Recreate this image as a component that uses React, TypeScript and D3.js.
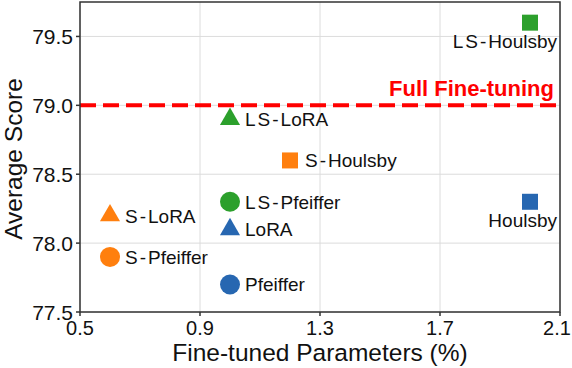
import React from 'react'
import * as d3 from 'd3'

const methods = ['LS-Houlsby', 'Houlsby', 'LS-LoRA', 'S-Houlsby', 'LS-Pfeiffer', 'LoRA', 'Pfeiffer', 'S-LoRA', 'S-Pfeiffer']
const params = [2.0, 2.0, 1.0, 1.2, 1.0, 1.0, 1.0, 0.6, 0.6]
const scores = [79.6, 78.3, 78.9, 78.6, 78.3, 78.1, 77.7, 78.2, 77.9]
const groups = ['LS', 'base', 'LS', 'S', 'LS', 'base', 'base', 'S', 'S']
const shapes = ['square', 'square', 'triangle', 'square', 'circle', 'triangle', 'circle', 'triangle', 'circle']
const xTicks = [0.5, 0.9, 1.3, 1.7, 2.1]
const yTicks = [77.5, 78.0, 78.5, 79.0, 79.5]
const fullFineTuning = 79.0

const colors: Record<string, string> = { LS: '#2ca02c', S: '#ff7f0e', base: '#2767b1' }
const symbols: Record<string, any> = { square: d3.symbolSquare, triangle: d3.symbolTriangle, circle: d3.symbolCircle }
const sizes: Record<string, number> = { square: 256, triangle: 175, circle: 314 }

const W = 572
const H = 368
const margin = { top: 2, right: 12, bottom: 56, left: 80 }
const font = 'Liberation Sans, Arial, Helvetica, sans-serif'

export default function App() {
  const x = d3.scaleLinear().domain([0.5, 2.1]).range([margin.left, W - margin.right])
  const y = d3.scaleLinear().domain([77.5, 79.75]).range([H - margin.bottom, margin.top])
  const [x0, x1] = x.range()
  const [y0, y1] = y.range()

  const points = methods.map((m, i) => ({ m, px: x(params[i]), py: y(scores[i]), g: groups[i], s: shapes[i] }))

  return (
    <svg width={W} height={H} style={{ position: 'absolute', left: 0, top: 0 }} fontFamily={font}>
      <rect width={W} height={H} fill="#fff" />
      {/* grid */}
      {xTicks.map(t => (
        <line key={'gx' + t} x1={x(t)} x2={x(t)} y1={y0} y2={y1} stroke="#dcdcdc" strokeWidth={1} />
      ))}
      {yTicks.map(t => (
        <line key={'gy' + t} x1={x0} x2={x1} y1={y(t)} y2={y(t)} stroke="#dcdcdc" strokeWidth={1} />
      ))}

      {/* full fine-tuning line */}
      <line x1={x0} x2={x1} y1={y(fullFineTuning)} y2={y(fullFineTuning)} stroke="#ff0000" strokeWidth={4} strokeDasharray="16,7" />
      <text x={x1 - 6} y={y(fullFineTuning) - 9} textAnchor="end" fill="#ff0000" fontWeight="bold" fontSize={22}>Full Fine-tuning</text>

      {/* points */}
      {points.map(p => (
        <path key={p.m} transform={`translate(${p.px},${p.py})`} d={d3.symbol(symbols[p.s], sizes[p.s])() || ''} fill={colors[p.g]} />
      ))}
      {points.map(p => {
        const below = p.px > x(1.8)
        return (
          <text key={'l' + p.m} x={below ? x1 - 3 : p.px + 15} y={below ? p.py + 25 : p.py + 7}
            textAnchor={below ? 'end' : 'start'} fontSize={19} fill="#111">
            {p.m.replace('LS', 'L S').replace('-', ' - ').split(' ').map((w, k) => (
              <tspan key={k} dx={k === 0 ? 0 : 2}>{w}</tspan>
            ))}
          </text>
        )
      })}

      {/* frame */}
      <rect x={x0} y={y1} width={x1 - x0} height={y0 - y1} fill="none" stroke="#333" strokeWidth={1.5} />

      {/* ticks */}
      {xTicks.map(t => (
        <g key={'tx' + t}>
          <line x1={x(t)} x2={x(t)} y1={y0} y2={y0 + 4} stroke="#333" strokeWidth={1.5} />
          <text x={Math.min(x(t), W - 15)} y={y0 + 23} textAnchor="middle" fontSize={20} fill="#111">{t.toFixed(1)}</text>
        </g>
      ))}
      {yTicks.map(t => (
        <g key={'ty' + t}>
          <line x1={x0 - 4} x2={x0} y1={y(t)} y2={y(t)} stroke="#333" strokeWidth={1.5} />
          <text x={x0 - 7} y={y(t) + 7.5} textAnchor="end" fontSize={21} fill="#111">{t.toFixed(1)}</text>
        </g>
      ))}

      <text x={320} y={361} textAnchor="middle" fontSize={24.5} fill="#111">Fine-tuned Parameters (%)</text>
      <text transform={`translate(${22},${159}) rotate(-90)`} textAnchor="middle" fontSize={24.5} fill="#111">Average Score</text>
    </svg>
  )
}
